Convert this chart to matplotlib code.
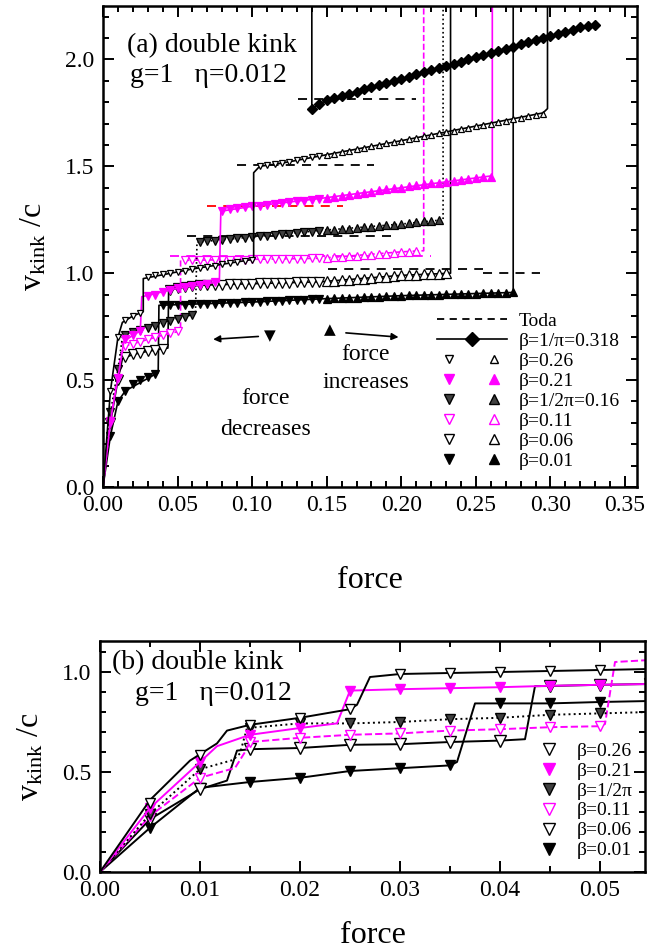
import numpy as np
import matplotlib
matplotlib.use("Agg")
import matplotlib.pyplot as plt
from matplotlib.lines import Line2D
from matplotlib.legend_handler import HandlerTuple
from matplotlib.ticker import MultipleLocator

plt.rcParams['font.family'] = ['Liberation Serif', 'DejaVu Sans']
plt.rcParams['mathtext.fontset'] = 'custom'
plt.rcParams['mathtext.rm'] = 'Liberation Serif'
plt.rcParams['mathtext.it'] = 'Liberation Serif:italic'

MAG = '#ff00ff'
STEP = 0.005   # force step of the simulation

# ---------------------------------------------------
# Panel (a) data
# ---------------------------------------------------
# beta = 1/pi = 0.318 (diamonds), force 0.14 .. 0.33
b318_f0 = 0.14
b318_v = [1.77, 1.79, 1.81, 1.82, 1.83, 1.84, 1.85, 1.86, 1.87, 1.88, 1.89, 1.90,
          1.91, 1.92, 1.93, 1.94, 1.95, 1.96, 1.97, 1.98, 1.99, 2.00, 2.01, 2.02,
          2.03, 2.04, 2.05, 2.06, 2.07, 2.08, 2.09, 2.10, 2.11, 2.12, 2.13, 2.14,
          2.15, 2.155, 2.16]

# force decreases: markers at force 0.005 .. 0.145 ; force increases: from 0.15
b26_dn = [0.45, 0.70, 0.78, 0.80, 0.815, 0.98, 0.99, 0.995, 1.0, 1.005, 1.012, 1.02,
          1.025, 1.03, 1.036, 1.042, 1.047, 1.052, 1.058, 1.063, 1.50, 1.505, 1.51,
          1.515, 1.522, 1.528, 1.535, 1.542, 1.548]
b26_up = [1.555, 1.56, 1.567, 1.573, 1.58, 1.587, 1.594, 1.60, 1.607, 1.613, 1.62,
          1.627, 1.634, 1.64, 1.647, 1.654, 1.66, 1.667, 1.674, 1.68, 1.687, 1.694,
          1.70, 1.707, 1.714, 1.72, 1.727, 1.734, 1.74, 1.746]
b26_line_f = [0, 0.005, 0.01, 0.013, 0.02, 0.027, 0.027, 0.06, 0.101, 0.101, 0.105,
              0.12, 0.2, 0.295, 0.298, 0.298]
b26_line_v = [0, 0.45, 0.70, 0.77, 0.80, 0.82, 0.975, 1.02, 1.065, 1.47, 1.50,
              1.515, 1.62, 1.75, 1.77, 2.6]

b21_dn = [0.31, 0.51, 0.69, 0.71, 0.73, 0.895, 0.90, 0.91, 0.92, 0.93, 0.935, 0.94,
          0.946, 0.95, 0.957, 1.29, 1.30, 1.305, 1.31, 1.313, 1.316, 1.32, 1.324,
          1.328, 1.332, 1.336, 1.34, 1.344, 1.348]
b21_up = [1.352, 1.357, 1.362, 1.367, 1.372, 1.377, 1.382, 1.387, 1.392, 1.397, 1.40,
          1.407, 1.412, 1.416, 1.42, 1.424, 1.428, 1.432, 1.436, 1.44, 1.444, 1.448,
          1.452]
b21_line_f = [0, 0.005, 0.01, 0.014, 0.02, 0.025, 0.026, 0.05, 0.078, 0.079, 0.1,
              0.146, 0.2, 0.26, 0.261, 0.261]
b21_line_v = [0, 0.31, 0.51, 0.68, 0.71, 0.73, 0.89, 0.93, 0.96, 1.29, 1.313,
              1.35, 1.40, 1.455, 1.455, 2.6]

b16_dn = [0.35, 0.55, 0.71, 0.725, 0.735, 0.745, 0.755, 0.765, 0.775, 0.785, 0.795,
          0.805, 1.146, 1.15, 1.153, 1.157, 1.16, 1.163, 1.167, 1.17, 1.173, 1.176,
          1.179, 1.182, 1.185, 1.188, 1.191, 1.194, 1.197]
b16_up = [1.2, 1.203, 1.206, 1.209, 1.212, 1.215, 1.218, 1.221, 1.224, 1.227, 1.23,
          1.234, 1.238, 1.242, 1.245, 1.248]
b16_line_f = [0, 0.005, 0.01, 0.013, 0.02, 0.04, 0.062, 0.063, 0.1, 0.146, 0.2,
              0.228, 0.228]
b16_line_v = [0, 0.35, 0.55, 0.70, 0.73, 0.77, 0.81, 1.145, 1.17, 1.20, 1.23,
              1.25, 2.6]

b11_dn = [0.30, 0.55, 0.66, 0.67, 0.68, 0.69, 0.70, 0.71, 0.72, 0.73, 1.06, 1.06,
          1.061, 1.061, 1.062, 1.062, 1.063, 1.064, 1.064, 1.065, 1.065, 1.066,
          1.066, 1.067, 1.067, 1.068, 1.068, 1.069, 1.07]
b11_up = [1.072, 1.075, 1.077, 1.08, 1.082, 1.085, 1.087, 1.09, 1.092, 1.095, 1.097,
          1.1, 1.102]
b11_line_f = [0, 0.004, 0.008, 0.012, 0.015, 0.02, 0.03, 0.04, 0.052, 0.052, 0.1,
              0.146, 0.2, 0.213, 0.215, 0.215]
b11_line_v = [0, 0.25, 0.45, 0.62, 0.66, 0.67, 0.69, 0.71, 0.73, 1.06, 1.065,
              1.07, 1.1, 1.105, 1.105, 2.6]

b06_dn = [0.30, 0.50, 0.61, 0.62, 0.627, 0.635, 0.64, 0.645, 0.922, 0.93, 0.935,
          0.94, 0.944, 0.945, 0.946, 0.947, 0.948, 0.949, 0.95, 0.951, 0.952, 0.953,
          0.954, 0.955, 0.956, 0.957, 0.958, 0.959, 0.96]
b06_up = [0.962, 0.965, 0.967, 0.97, 0.972, 0.975, 0.978, 0.98, 0.984, 0.987, 0.99,
          0.992, 0.993, 0.995, 0.997, 0.998, 1.0]
b06_line_f = [0, 0.005, 0.01, 0.013, 0.02, 0.03, 0.0435, 0.044, 0.05, 0.065, 0.146,
              0.2, 0.233, 0.233]
b06_line_v = [0, 0.30, 0.50, 0.60, 0.62, 0.635, 0.65, 0.92, 0.93, 0.944, 0.96,
              0.99, 1.0, 2.6]

b01_dn = [0.24, 0.40, 0.45, 0.48, 0.50, 0.515, 0.53, 0.85, 0.85, 0.852, 0.853,
          0.854, 0.855, 0.857, 0.858, 0.86, 0.862, 0.863, 0.864, 0.865, 0.867, 0.869,
          0.87, 0.872, 0.874, 0.875, 0.877, 0.878, 0.88]
b01_up = [0.881, 0.882, 0.883, 0.884, 0.886, 0.887, 0.889, 0.89, 0.892, 0.893, 0.895,
          0.896, 0.897, 0.898, 0.899, 0.9, 0.901, 0.902, 0.903, 0.904, 0.905, 0.906,
          0.907, 0.908, 0.909, 0.91]
b01_line_f = [0, 0.005, 0.01, 0.015, 0.037, 0.0375, 0.1, 0.146, 0.2, 0.275, 0.275]
b01_line_v = [0, 0.24, 0.40, 0.45, 0.535, 0.85, 0.865, 0.88, 0.895, 0.91, 2.6]

# Toda reference velocities (dashed)
toda_v = [1.815, 1.505, 1.313, 1.173, 1.08, 1.02, 1.0]
toda_f0 = [0.131, 0.09, 0.07, 0.056, 0.045, 0.151, 0.255]
toda_f1 = [0.21, 0.182, 0.161, 0.193, 0.22, 0.255, 0.293]
toda_c = ['k', 'k', 'r', 'k', MAG, 'k', 'k']

# ---------------------------------------------------
# Panel (b) data, markers at force 0.005 .. 0.055
# ---------------------------------------------------
pb_b26 = [0.343, 0.586, 0.736, 0.771, 0.814, 0.99, 0.995, 1.0, 1.005, 1.01, 1.015]
pb_b26_lf = [0, 0.005, 0.009, 0.0117, 0.0127, 0.015, 0.02, 0.025, 0.0257, 0.027,
             0.03, 0.035, 0.04, 0.045, 0.05, 0.055]
pb_b26_lv = [0, 0.36, 0.557, 0.643, 0.707, 0.736, 0.771, 0.814, 0.836, 0.975,
             0.99, 0.995, 1.0, 1.005, 1.01, 1.015]

pb_b21 = [0.32, 0.55, 0.686, 0.72, 0.907, 0.914, 0.919, 0.924, 0.931, 0.936, 0.94]
pb_b21_lf = [0, 0.005, 0.01, 0.0117, 0.015, 0.02, 0.0237, 0.025, 0.03, 0.035, 0.04,
             0.045, 0.05, 0.055]
pb_b21_lv = [0, 0.32, 0.55, 0.629, 0.686, 0.72, 0.743, 0.907, 0.914, 0.919, 0.924,
             0.931, 0.936, 0.94]

pb_b16 = [0.29, 0.514, 0.72, 0.743, 0.743, 0.75, 0.764, 0.771, 0.786, 0.793, 0.80]
pb_b16_lf = [0, 0.005, 0.01, 0.0133, 0.014, 0.0147, 0.02, 0.025, 0.03, 0.035, 0.04,
             0.045, 0.05, 0.055]
pb_b16_lv = [0, 0.29, 0.514, 0.56, 0.593, 0.72, 0.743, 0.743, 0.75, 0.764, 0.771,
             0.786, 0.793, 0.80]

pb_b11 = [0.28, 0.471, 0.65, 0.671, 0.686, 0.693, 0.707, 0.714, 0.724, 0.729, 1.06]
pb_b11_lf = [0, 0.005, 0.01, 0.0135, 0.0145, 0.015, 0.02, 0.025, 0.03, 0.035, 0.04,
             0.045, 0.05, 0.0505, 0.0515, 0.055]
pb_b11_lv = [0, 0.28, 0.471, 0.52, 0.60, 0.65, 0.671, 0.686, 0.693, 0.707, 0.714,
             0.724, 0.729, 0.74, 1.05, 1.06]

pb_b06 = [0.264, 0.414, 0.614, 0.62, 0.636, 0.639, 0.65, 0.657, 0.929, 0.936, 0.94]
pb_b06_lf = [0, 0.005, 0.01, 0.0127, 0.0137, 0.015, 0.02, 0.025, 0.03, 0.035, 0.04,
             0.0425, 0.0435, 0.045, 0.05, 0.055]
pb_b06_lv = [0, 0.264, 0.414, 0.457, 0.607, 0.614, 0.62, 0.636, 0.639, 0.65, 0.657,
             0.664, 0.929, 0.93, 0.936, 0.94]

pb_b01 = [0.221, 0.421, 0.45, 0.471, 0.505, 0.519, 0.533, 0.843, 0.843, 0.85, 0.855]
pb_b01_lf = [0, 0.005, 0.01, 0.015, 0.02, 0.025, 0.03, 0.035, 0.0357, 0.0375, 0.04,
             0.045, 0.05, 0.055]
pb_b01_lv = [0, 0.221, 0.421, 0.45, 0.471, 0.505, 0.519, 0.533, 0.55, 0.843, 0.843,
             0.843, 0.85, 0.855]

# marker / line styles per beta
STYLES = {
    '0.26': dict(mfc='white', mec='k', ms=5.0, lc='k', ls='-'),
    '0.21': dict(mfc=MAG, mec=MAG, ms=6.0, lc=MAG, ls='-'),
    '0.16': dict(mfc='0.25', mec='k', ms=6.0, lc='k', ls=':'),
    '0.11': dict(mfc='white', mec=MAG, ms=6.0, lc=MAG, ls='--'),
    '0.06': dict(mfc='white', mec='k', ms=6.5, lc='k', ls='-'),
    '0.01': dict(mfc='k', mec='k', ms=6.0, lc='k', ls='-'),
}


def style_axes(ax):
    for s in ax.spines.values():
        s.set_linewidth(1.8)
    ax.tick_params(which='both', direction='in', top=True, right=True,
                   labelsize=17, width=1.4, pad=6)
    ax.tick_params(which='major', length=8)
    ax.tick_params(which='minor', length=4)


def force_grid(start, n):
    return start + STEP * np.arange(n)


fig = plt.figure(figsize=(6.47, 9.5), dpi=100)

# ---------------------------------------------------
# Panel (a)
# ---------------------------------------------------
ax = fig.add_axes([103 / 647, 1 - 487 / 950, 534 / 647, 481 / 950])

for v, f0, f1, c in zip(toda_v, toda_f0, toda_f1, toda_c):
    ax.plot([f0, f1], [v, v], color=c, ls=(0, (5, 4)), lw=1.3)

series_a = [
    ('0.01', b01_line_f, b01_line_v, b01_dn, b01_up),
    ('0.06', b06_line_f, b06_line_v, b06_dn, b06_up),
    ('0.11', b11_line_f, b11_line_v, b11_dn, b11_up),
    ('0.16', b16_line_f, b16_line_v, b16_dn, b16_up),
    ('0.21', b21_line_f, b21_line_v, b21_dn, b21_up),
    ('0.26', b26_line_f, b26_line_v, b26_dn, b26_up),
]
for key, lf, lv, dn, up in series_a:
    st = STYLES[key]
    ax.plot(lf, lv, color=st['lc'], ls=st['ls'], lw=1.2)
    ax.plot(force_grid(STEP, len(dn)), dn, ls='None', marker='v', ms=st['ms'],
            mfc=st['mfc'], mec=st['mec'], mew=0.9)
    ax.plot(force_grid(0.15, len(up)), up, ls='None', marker='^', ms=st['ms'],
            mfc=st['mfc'], mec=st['mec'], mew=0.9)

f318 = force_grid(b318_f0, len(b318_v))
ax.plot([b318_f0, b318_f0] + list(f318), [2.6, b318_v[0]] + b318_v,
        color='k', lw=1.2, marker='None')
ax.plot(f318, b318_v, ls='None', marker='D', ms=5.5, color='k')

ax.set_xlim(0, 0.358)
ax.set_ylim(0, 2.25)
ax.xaxis.set_major_locator(MultipleLocator(0.05))
ax.xaxis.set_minor_locator(MultipleLocator(0.01))
ax.yaxis.set_major_locator(MultipleLocator(0.5))
ax.yaxis.set_minor_locator(MultipleLocator(0.1))
ax.xaxis.set_major_formatter(plt.FuncFormatter(lambda x, p: f"{x:.2f}"))
ax.yaxis.set_major_formatter(plt.FuncFormatter(lambda x, p: f"{x:.1f}"))
style_axes(ax)
ax.set_xlabel("force", fontsize=23, labelpad=36)
ax.set_ylabel(r"v$_{\mathrm{kink}}$ /c", fontsize=23, labelpad=12)

ax.text(0.016, 2.065, "(a) double kink", fontsize=20, va='center')
ax.text(0.018, 1.925, "g=1   η=0.012", fontsize=20, va='center')

# force direction hints
ax.annotate("", xy=(0.072, 0.69), xytext=(0.106, 0.705),
            arrowprops=dict(arrowstyle='-|>', color='k', lw=1.2, mutation_scale=10))
ax.text(0.112, 0.71, "▼", family='DejaVu Sans', fontsize=11, ha='center', va='center')
ax.text(0.109, 0.415, "force", fontsize=17, ha='center', va='center')
ax.text(0.109, 0.27, "decreases", fontsize=17, ha='center', va='center')
ax.text(0.152, 0.735, "▲", family='DejaVu Sans', fontsize=11, ha='center', va='center')
ax.annotate("", xy=(0.2, 0.70), xytext=(0.161, 0.722),
            arrowprops=dict(arrowstyle='-|>', color='k', lw=1.2, mutation_scale=10))
ax.text(0.176, 0.62, "force", fontsize=17, ha='center', va='center')
ax.text(0.176, 0.49, "increases", fontsize=17, ha='center', va='center')

# legend
h_toda = Line2D([], [], color='k', ls=(0, (4, 3)), lw=1.3)
h_318 = Line2D([], [], color='k', ls='-', lw=1.2, marker='D', ms=7)
handles = [h_toda, h_318]
labels = ["Toda", "β=1/π=0.318"]
leg_names = {'0.26': "β=0.26", '0.21': "β=0.21", '0.16': "β=1/2π=0.16",
             '0.11': "β=0.11", '0.06': "β=0.06", '0.01': "β=0.01"}
for key in ['0.26', '0.21', '0.16', '0.11', '0.06', '0.01']:
    st = STYLES[key]
    ms = 7 if key != '0.26' else 6
    hd = Line2D([], [], ls='None', marker='v', ms=ms, mfc=st['mfc'], mec=st['mec'], mew=1)
    hu = Line2D([], [], ls='None', marker='^', ms=ms, mfc=st['mfc'], mec=st['mec'], mew=1)
    handles.append((hd, hu))
    labels.append(leg_names[key])
ax.legend(handles, labels, loc='lower right', bbox_to_anchor=(1.0, 0.0),
          frameon=False, fontsize=14, handlelength=3.6, handletextpad=0.6,
          labelspacing=0.12, borderaxespad=0.5,
          handler_map={tuple: HandlerTuple(ndivide=None, pad=1.0)})

# ---------------------------------------------------
# Panel (b)
# ---------------------------------------------------
bx = fig.add_axes([100 / 647, 1 - 872 / 950, 545 / 647, 231 / 950])

series_b = [
    ('0.01', pb_b01_lf, pb_b01_lv, pb_b01),
    ('0.06', pb_b06_lf, pb_b06_lv, pb_b06),
    ('0.11', pb_b11_lf, pb_b11_lv, pb_b11),
    ('0.16', pb_b16_lf, pb_b16_lv, pb_b16),
    ('0.21', pb_b21_lf, pb_b21_lv, pb_b21),
    ('0.26', pb_b26_lf, pb_b26_lv, pb_b26),
]
for key, lf, lv, mk in series_b:
    st = STYLES[key]
    bx.plot(lf, lv, color=st['lc'], ls=st['ls'], lw=1.4)
    bx.plot(force_grid(STEP, len(mk)), mk, ls='None', marker='v',
            ms=st['ms'] + 1.5, mfc=st['mfc'], mec=st['mec'], mew=1)

bx.set_xlim(0, 0.0545)
bx.set_ylim(0, 1.155)
bx.xaxis.set_major_locator(MultipleLocator(0.01))
bx.xaxis.set_minor_locator(MultipleLocator(0.005))
bx.yaxis.set_major_locator(MultipleLocator(0.5))
bx.yaxis.set_minor_locator(MultipleLocator(0.1))
bx.xaxis.set_major_formatter(plt.FuncFormatter(lambda x, p: f"{x:.2f}"))
bx.yaxis.set_major_formatter(plt.FuncFormatter(lambda x, p: f"{x:.1f}"))
style_axes(bx)
bx.set_xlabel("force", fontsize=23, labelpad=14)
bx.set_ylabel(r"v$_{\mathrm{kink}}$ /c", fontsize=23, labelpad=12)

bx.text(0.0012, 1.045, "(b) double kink", fontsize=20, va='center')
bx.text(0.0035, 0.895, "g=1   η=0.012", fontsize=20, va='center')

handles_b, labels_b = [], []
for key in ['0.26', '0.21', '0.16', '0.11', '0.06', '0.01']:
    st = STYLES[key]
    handles_b.append(Line2D([], [], ls='None', marker='v', ms=8, mfc=st['mfc'],
                            mec=st['mec'], mew=1))
    labels_b.append(leg_names[key] if key != '0.16' else "β=1/2π")
bx.legend(handles_b, labels_b, loc='lower right', bbox_to_anchor=(1.0, 0.0),
          frameon=False, fontsize=14, handlelength=1.2, handletextpad=0.8,
          labelspacing=0.12, borderaxespad=0.25)

fig.savefig("out.png", dpi=100)
